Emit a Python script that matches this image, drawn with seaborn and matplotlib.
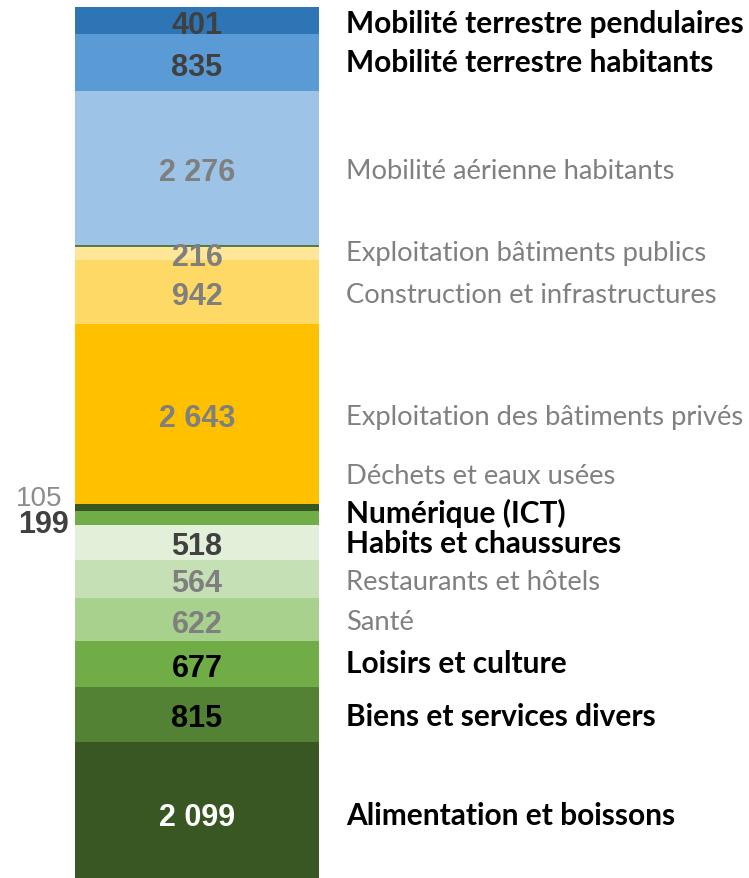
import numpy as np
import pandas as pd
import seaborn as sns
import matplotlib.pyplot as plt

# segments from bottom to top
categories = [
    "Alimentation et boissons", "Biens et services divers", "Loisirs et culture",
    "Santé", "Restaurants et hôtels", "Habits et chaussures", "Numérique (ICT)",
    "Déchets et eaux usées", "Exploitation des bâtiments privés",
    "Construction et infrastructures", "Exploitation bâtiments publics",
    "Mobilité aérienne habitants", "Mobilité terrestre habitants",
    "Mobilité terrestre pendulaires",
]
values = [2099, 815, 677, 622, 564, 518, 199, 105, 2643, 942, 216, 2276, 835, 401]
value_labels = ["2 099", "815", "677", "622", "564", "518", "199", "105",
                "2 643", "942", "216", "2 276", "835", "401"]
colors = ["#385723", "#548235", "#70AD47", "#A9D18E", "#C5E0B4", "#E2F0D9", "#70AD47",
          "#375623", "#FFC000", "#FFD966", "#FFE699", "#9DC3E6", "#5B9BD5", "#2E75B6"]
value_colors = ["white", "black", "black", "#7F7F7F", "#7F7F7F", "#404040", "#404040",
                "#8C8C8C", "#7F7F7F", "#7F7F7F", "#7F7F7F", "#7F7F7F", "#404040", "#404040"]
name_bold = [True, True, True, False, False, True, True,
             False, False, False, False, False, True, True]

df = pd.DataFrame({"cat": categories, "value": values})
df["top"] = df["value"].cumsum()
df["bottom"] = df["top"] - df["value"]
df["mid"] = (df["top"] + df["bottom"]) / 2

sns.set_style("white")
fig = plt.figure(figsize=(7.49, 8.79), dpi=100)
ax = fig.add_axes([75 / 749, 0, 244 / 749, 871 / 879])

# draw the stack top-down so every lower segment covers the one above it
for i in range(len(df) - 1, -1, -1):
    sns.barplot(x=["total"], y=[df["top"][i]], color=colors[i], width=1.0,
                saturation=1, ax=ax, linewidth=0)

ax.axhline(df["top"][10], color="#3A6B35", lw=1.2)
ax.set_xlim(-0.5, 0.5)
ax.set_ylim(100, df["top"].iloc[-1])
ax.axis("off")

# pixel offsets for labels that do not sit on the segment centre
value_off = {6: (-154, -6), 7: (-158, 10)}
name_off = {7: (0, 32), 6: (0, 6), 2: (0, 1), 10: (0, 1), 12: (0, 1), 5: (0, -1)}
for i, row in df.iterrows():
    dx, dy = value_off.get(i, (0, -4))
    ax.annotate(value_labels[i], (0, row["mid"]), xytext=(dx * 0.72, dy * 0.72),
                textcoords="offset points", ha="center", va="center",
                fontsize=22 if i != 7 else 20, fontweight="bold" if i != 7 else "normal",
                color=value_colors[i], family="Liberation Sans", annotation_clip=False)
    ndx, ndy = name_off.get(i, (0, -2))
    ax.annotate(categories[i], (0.5, row["mid"]), xytext=(27 * 0.72, ndy * 0.72),
                textcoords="offset points", ha="left", va="center",
                fontsize=21.5 if name_bold[i] else 19.7,
                fontweight="bold" if name_bold[i] else "normal",
                color="black" if name_bold[i] else "#808080", family="Lato",
                annotation_clip=False)

fig.savefig("out.png", dpi=100)
